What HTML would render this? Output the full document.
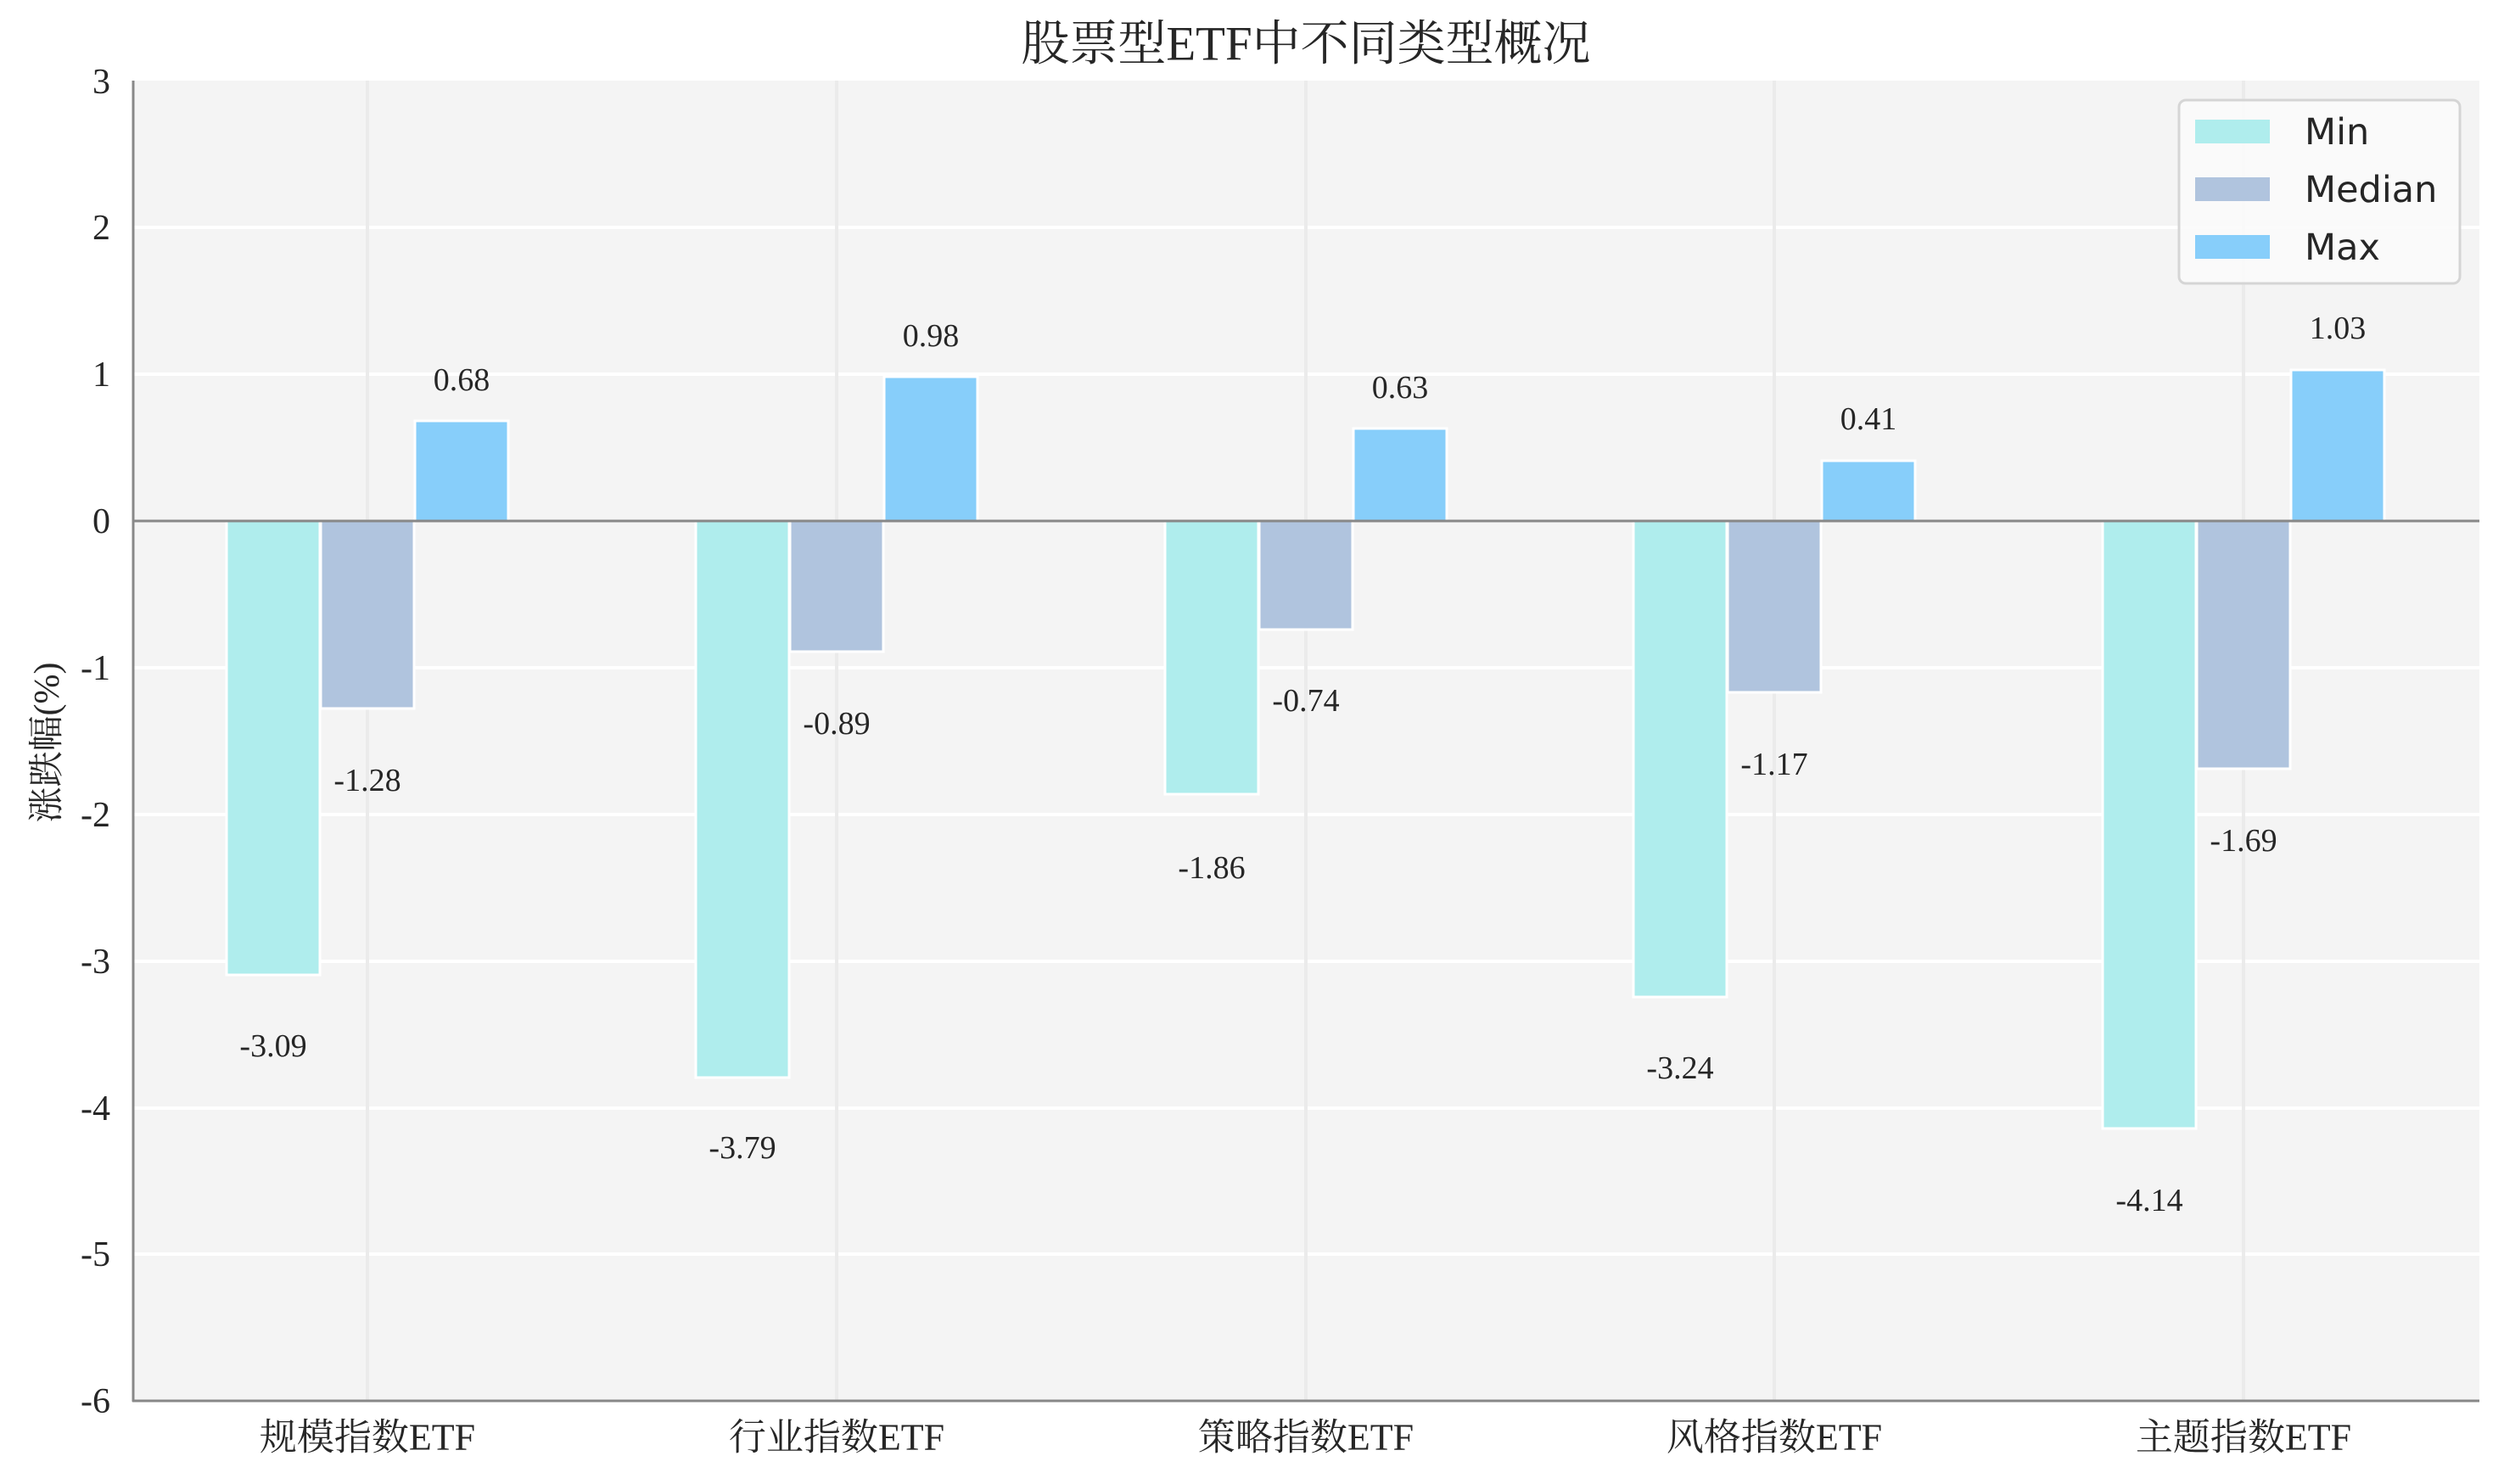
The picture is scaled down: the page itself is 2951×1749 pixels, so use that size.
<!DOCTYPE html>
<html><head><meta charset="utf-8"><style>
html,body{margin:0;padding:0;background:#fff;}
svg{display:block;}
.s{font-family:"Liberation Serif","Noto Serif CJK SC",serif;fill:#262626;}
.l{font-family:"DejaVu Sans","Liberation Sans",sans-serif;fill:#262626;}
</style></head><body>
<svg width="2951" height="1749" viewBox="0 0 2951 1749" xmlns="http://www.w3.org/2000/svg">
<rect x="157" y="95" width="2765" height="1556" fill="#f4f4f4"/>
<g stroke="#ffffff" stroke-width="4">
<line x1="157" y1="268" x2="2922" y2="268"/>
<line x1="157" y1="441" x2="2922" y2="441"/>
<line x1="157" y1="787" x2="2922" y2="787"/>
<line x1="157" y1="960" x2="2922" y2="960"/>
<line x1="157" y1="1133" x2="2922" y2="1133"/>
<line x1="157" y1="1306" x2="2922" y2="1306"/>
<line x1="157" y1="1478" x2="2922" y2="1478"/>
</g>
<g stroke="#ebebeb" stroke-width="4">
<line x1="433" y1="95" x2="433" y2="1651"/>
<line x1="986" y1="95" x2="986" y2="1651"/>
<line x1="1539" y1="95" x2="1539" y2="1651"/>
<line x1="2091" y1="95" x2="2091" y2="1651"/>
<line x1="2644" y1="95" x2="2644" y2="1651"/>
</g>
<g stroke="#ffffff" stroke-width="3">
<rect x="267" y="614" width="110" height="535" fill="#afeded"/>
<rect x="378" y="614" width="110" height="221" fill="#b0c4de"/>
<rect x="489" y="496" width="110" height="118" fill="#87cefa"/>
<rect x="820" y="614" width="110" height="656" fill="#afeded"/>
<rect x="931" y="614" width="110" height="154" fill="#b0c4de"/>
<rect x="1042" y="444" width="110" height="170" fill="#87cefa"/>
<rect x="1373" y="614" width="110" height="322" fill="#afeded"/>
<rect x="1484" y="614" width="110" height="128" fill="#b0c4de"/>
<rect x="1595" y="505" width="110" height="109" fill="#87cefa"/>
<rect x="1925" y="614" width="110" height="561" fill="#afeded"/>
<rect x="2036" y="614" width="110" height="202" fill="#b0c4de"/>
<rect x="2147" y="543" width="110" height="71" fill="#87cefa"/>
<rect x="2478" y="614" width="110" height="716" fill="#afeded"/>
<rect x="2589" y="614" width="110" height="292" fill="#b0c4de"/>
<rect x="2700" y="436" width="110" height="178" fill="#87cefa"/>
</g>
<line x1="157" y1="614" x2="2922" y2="614" stroke="#888" stroke-width="3"/>
<line x1="157" y1="95" x2="157" y2="1652" stroke="#888" stroke-width="3"/>
<line x1="156" y1="1651" x2="2922" y2="1651" stroke="#888" stroke-width="3"/>
<g class="s" font-size="38" text-anchor="middle" dominant-baseline="central">
<text x="322" y="1233">-3.09</text><text x="433" y="920">-1.28</text><text x="544" y="448">0.68</text>
<text x="875" y="1353">-3.79</text><text x="986" y="853">-0.89</text><text x="1097" y="396">0.98</text>
<text x="1428" y="1023">-1.86</text><text x="1539" y="826">-0.74</text><text x="1650" y="457">0.63</text>
<text x="1980" y="1259">-3.24</text><text x="2091" y="901">-1.17</text><text x="2202" y="494">0.41</text>
<text x="2533" y="1415">-4.14</text><text x="2644" y="991">-1.69</text><text x="2755" y="387">1.03</text>
</g>
<g class="s" font-size="42" text-anchor="end" dominant-baseline="central">
<text x="130" y="97">3</text><text x="130" y="269">2</text><text x="130" y="442">1</text>
<text x="130" y="615">0</text><text x="130" y="788">-1</text><text x="130" y="961">-2</text>
<text x="130" y="1134">-3</text><text x="130" y="1307">-4</text><text x="130" y="1479">-5</text>
<text x="130" y="1652">-6</text>
</g>
<g class="s" font-size="44" text-anchor="middle" dominant-baseline="central">
<text x="433" y="1694">规模指数ETF</text>
<text x="986" y="1694">行业指数ETF</text>
<text x="1539" y="1694">策略指数ETF</text>
<text x="2091" y="1694">风格指数ETF</text>
<text x="2644" y="1694">主题指数ETF</text>
</g>
<text class="s" font-size="57" x="1539" y="52" text-anchor="middle" dominant-baseline="central">股票型ETF中不同类型概况</text>
<text class="s" font-size="42" transform="translate(56,875) rotate(-90)" text-anchor="middle" dominant-baseline="central">涨跌幅(%)</text>
<rect x="2568" y="118" width="331" height="216" rx="8" fill="#fbfbfb" fill-opacity="0.9" stroke="#d5d5d5" stroke-width="3"/>
<rect x="2587" y="141" width="88" height="28" fill="#afeded"/>
<rect x="2587" y="209" width="88" height="28" fill="#b0c4de"/>
<rect x="2587" y="277" width="88" height="28" fill="#87cefa"/>
<g class="l" font-size="43" dominant-baseline="central">
<text x="2716" y="156">Min</text>
<text x="2716" y="224">Median</text>
<text x="2716" y="292">Max</text>
</g>
</svg>
</body></html>
